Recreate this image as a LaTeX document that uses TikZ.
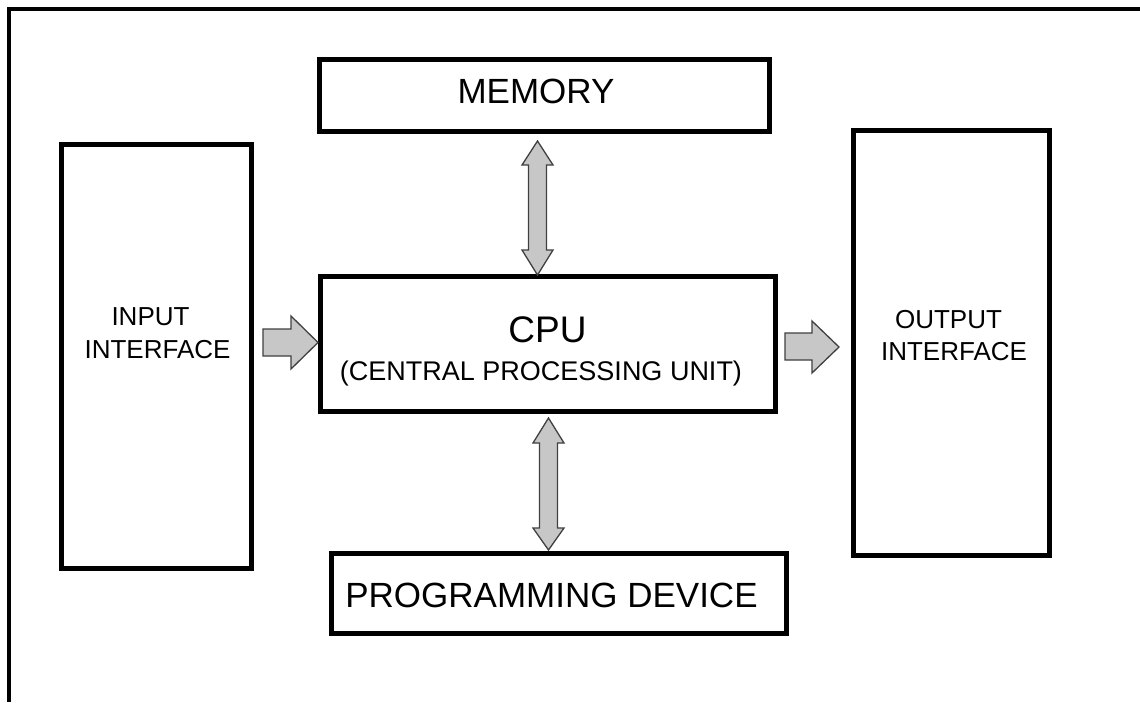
\documentclass[tikz,border=0pt]{standalone}
\usepackage{fontspec}
\setmainfont{Liberation Sans}
\begin{document}
\begin{tikzpicture}[x=1pt,y=-1pt,
  box/.style={draw, line width=5pt, inner sep=0pt, rectangle},
  lbl/.style={inner sep=0pt, anchor=base},
  blk/.style={fill=black!22, draw=black!75, line width=1.3pt, line join=miter}]
\useasboundingbox (0,0) rectangle (1140,702);
\fill[white] (0,0) rectangle (1140,702);
% frame
\draw[line width=4pt] (9,702) -- (9,9) -- (1140,9);
% boxes
\node[box, minimum width=450pt, minimum height=72pt] (mem) at (544.5,95.5) {};
\node[box, minimum width=190pt, minimum height=424pt] (inp) at (156.5,356.5) {};
\node[box, minimum width=455pt, minimum height=135pt] (cpu) at (548,344) {};
\node[box, minimum width=196pt, minimum height=424.5pt] (out) at (951,342.75) {};
\node[box, minimum width=455pt, minimum height=80pt] (prog) at (558.5,593) {};
% texts
\node[lbl, font=\fontsize{35}{40}\selectfont] (memt) at (536,103) {MEMORY};
\node[lbl, font=\fontsize{37}{44}\selectfont] (cput) at (547.5,342) {CPU};
\node[lbl, font=\fontsize{27}{32}\selectfont] (cpus) at (541,380) {(CENTRAL PROCESSING UNIT)};
\node[lbl, font=\fontsize{26}{31}\selectfont] (inpa) at (150.5,325) {INPUT};
\node[lbl, font=\fontsize{26}{31}\selectfont] (inpb) at (157.5,358) {INTERFACE};
\node[lbl, font=\fontsize{26}{31}\selectfont] (outa) at (948.5,328) {OUTPUT};
\node[lbl, font=\fontsize{26}{31}\selectfont] (outb) at (954,360) {INTERFACE};
\node[lbl, font=\fontsize{35}{42}\selectfont] (progt) at (551.5,607) {PROGRAMMING DEVICE};
% block arrows
% input -> cpu
\draw[blk] (263,329) -- (291,329) -- (291,316) -- (318,342.5) -- (291,369) -- (291,356) -- (263,356) -- cycle;
% cpu -> output
\draw[blk] (785,333) -- (812,333) -- (812,321) -- (839,347) -- (812,373) -- (812,360) -- (785,360) -- cycle;
% memory <-> cpu
\draw[blk] (537.5,141) -- (553,165) -- (546.5,165) -- (546.5,250) -- (553,250) -- (537.5,275)
  -- (522,250) -- (528.5,250) -- (528.5,165) -- (522,165) -- cycle;
% cpu <-> programming device
\draw[blk] (548.5,418) -- (564,443) -- (557.5,443) -- (557.5,528) -- (564,528) -- (548.5,550)
  -- (533,528) -- (539.5,528) -- (539.5,443) -- (533,443) -- cycle;
\end{tikzpicture}
\end{document}
